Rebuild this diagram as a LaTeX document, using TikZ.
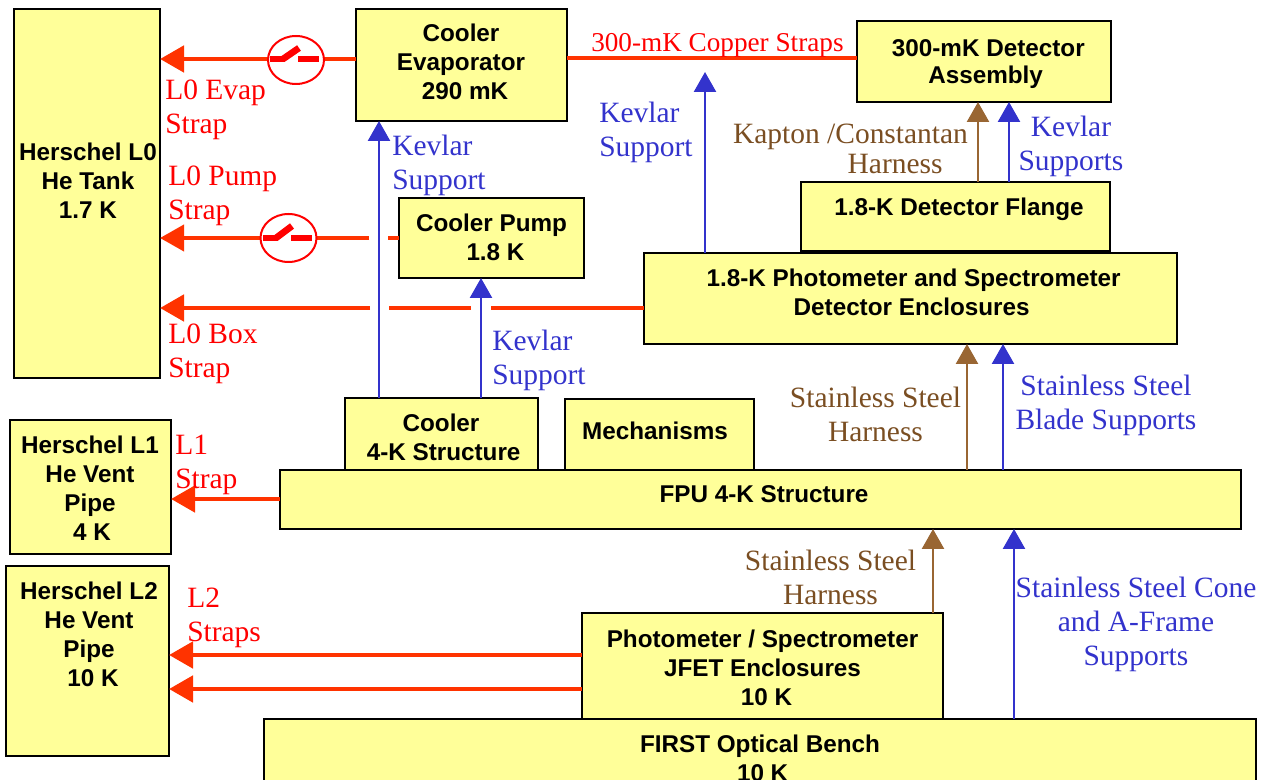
\documentclass[tikz,border=0pt]{standalone}
\usepackage{fontspec}
\setmainfont{Liberation Serif}
\newfontfamily\arialf{Liberation Sans}
\usetikzlibrary{arrows.meta,fit,shapes.geometric}
\definecolor{boxyellow}{HTML}{FFFF99}
\definecolor{strapred}{HTML}{FF3300}
\definecolor{kevblue}{HTML}{3333CC}
\definecolor{harnbrown}{HTML}{996633}
\definecolor{harntext}{HTML}{7A4E22}
\tikzset{
  box/.style={draw=black,line width=1.4pt,fill=boxyellow,inner sep=0pt,outer sep=0pt},
  boxtext/.style={font=\arialf\bfseries\fontsize{18.2}{21.8}\selectfont,align=center,inner sep=0pt,text=black},
  lab/.style={font=\fontsize{22.1}{25.5}\selectfont,inner sep=0pt},
  redlab/.style={lab,text=red,align=left},
  bluelab/.style={lab,text=kevblue},
  brownlab/.style={lab,text=harntext,align=center},
  strap/.style={draw=strapred,line width=3.6pt},
  straphead/.style={strap,-{Triangle[length=18pt,width=19.5pt,fill=strapred]}},
  thinstrap/.style={draw=strapred,line width=3pt},
  thinhead/.style={thinstrap,-{Triangle[length=18pt,width=19.5pt,fill=strapred]}},
  kevarrow/.style={draw=kevblue,line width=1.9pt,-{Triangle[length=15pt,width=16.5pt,fill=kevblue]}},
  harnarrow/.style={draw=harnbrown,line width=1.9pt,-{Triangle[length=15pt,width=16.5pt,fill=harnbrown]}},
  swcircle/.style={ellipse,draw=red,line width=1.5pt,fill=white,minimum width=42pt,minimum height=36pt,inner sep=0pt},
  swbar/.style={draw=red,line width=5pt},
}
\begin{document}
\begin{tikzpicture}[x=0.75pt,y=-0.75pt]
\clip (0,0) rectangle (1265,780);
% boxes
\node[box,fit={(14,9)(160,378)}] (tank) {};
\node[box,fit={(10,420)(171,554)}] (lone) {};
\node[box,fit={(6,566)(169,756)}] (ltwo) {};
\node[box,fit={(356,9)(567,121)}] (evap) {};
\node[box,fit={(857,21)(1111,102)}] (assy) {};
\node[box,fit={(399,198)(584,278)}] (pump) {};
\node[box,fit={(801,182)(1110,251)}] (flange) {};
\node[box,fit={(644,253)(1177,344)}] (encl) {};
\node[box,fit={(345,398)(538,470)}] (cool) {};
\node[box,fit={(565,399)(754,470)}] (mech) {};
\node[box,fit={(280,470)(1241,529)}] (fpu) {};
\node[box,fit={(264,719)(1256,800)}] (bench) {};
\node[box,fit={(582,613)(943,719)}] (jfet) {};
% box texts
\node[boxtext] (t1) at (88,180.5) {Herschel L0\\He Tank\\1.7 K};
\node[boxtext] (t2) at (90,488) {Herschel L1\\He Vent\\Pipe\\\hspace*{3pt}4 K};
\node[boxtext] (t3) at (89,634) {Herschel L2\\He Vent\\Pipe\\\hspace*{6pt}10 K};
\node[boxtext] (t4) at (461,62) {Cooler\\Evaporator\\\hspace*{6pt}290 mK};
\node[boxtext] (t5) at (987,64) {\hspace*{2pt}300-mK Detector\\[-1.5pt]\hspace*{-2pt}Assembly};
\node[boxtext] (t6) at (491.5,237) {Cooler Pump\\\hspace*{6pt}1.8 K};
\node[boxtext] (t7) at (959,209) {1.8-K Detector Flange};
\node[boxtext] (t8) at (913,292.5) {\hspace*{1pt}1.8-K Photometer and Spectrometer\\\hspace*{-2pt}Detector Enclosures};
\node[boxtext] (t9) at (443,437.5) {\hspace*{-3pt}Cooler\\\hspace*{1pt}4-K Structure};
\node[boxtext] (t10) at (655,431) {Mechanisms};
\node[boxtext] (t11) at (764,494) {FPU 4-K Structure};
\node[boxtext] (t12) at (762.5,667.5) {Photometer / Spectrometer\\JFET Enclosures\\\hspace*{6pt}10 K};
\node[boxtext] (t13) at (760,758) {FIRST Optical Bench\\\hspace*{4pt}10 K};
% straps
\draw[strap] (evap.east |- 0,58) -- (assy.west |- 0,58);
\draw[straphead] (evap.west |- 0,59) -- (tank.east |- 0,59);
\coordinate (pgapa) at (388,238);
\coordinate (pgapb) at (369,238);
\draw[thinstrap] (pump.west |- pgapa) -- (pgapa);
\draw[thinhead] (pgapb) -- (tank.east |- pgapb);
\coordinate (bgapa) at (491,308);
\coordinate (bgapb) at (471,308);
\coordinate (bgapc) at (389,308);
\coordinate (bgapd) at (370,308);
\draw[strap] (encl.west |- bgapa) -- (bgapa);
\draw[strap] (bgapb) -- (bgapc);
\draw[straphead] (bgapd) -- (tank.east |- bgapd);
\draw[straphead] (fpu.west |- 0,499) -- (lone.east |- 0,499);
\draw[straphead] (jfet.west |- 0,655) -- (ltwo.east |- 0,655);
\draw[straphead] (jfet.west |- 0,689) -- (ltwo.east |- 0,689);
% switches
\node[swcircle] (swa) at (296,60) {};
\draw[swbar] (270,59) -- (285,59);
\draw[swbar] (283,59) -- (299,48);
\draw[swbar] (298,59) -- (319,59);
\node[swcircle] (swb) at (288.5,238) {};
\draw[swbar] (263,238) -- (278,238);
\draw[swbar] (276,238) -- (292,226);
\draw[swbar] (291,238) -- (312,238);
% support arrows
\coordinate (kevtop) at (705,72);
\draw[kevarrow] (379,0 |- cool.north) -- (379,0 |- evap.south);
\draw[kevarrow] (481,0 |- cool.north) -- (481,0 |- pump.south);
\draw[kevarrow] (kevtop |- encl.north) -- (kevtop);
\draw[kevarrow] (1009,0 |- flange.north) -- (1009,0 |- assy.south);
\draw[harnarrow] (978,0 |- flange.north) -- (978,0 |- assy.south);
\draw[harnarrow] (967,0 |- fpu.north) -- (967,0 |- encl.south);
\draw[kevarrow] (1003,0 |- fpu.north) -- (1003,0 |- encl.south);
\draw[harnarrow] (933,0 |- jfet.north) -- (933,0 |- fpu.south);
\draw[kevarrow] (1014,0 |- bench.north) -- (1014,0 |- fpu.south);
% labels
\node[redlab,anchor=west] (l1) at (165,109.5) {L0 Evap\\Strap};
\node[redlab,anchor=west] (l2) at (168,195.5) {L0 Pump\\Strap};
\node[redlab,anchor=west] (l3) at (168,353.5) {L0 Box\\Strap};
\node[redlab,anchor=west] (l4) at (175,464.5) {L1\\Strap};
\node[redlab,anchor=west] (l5) at (187,618) {L2\\Straps};
\node[lab,text=red,anchor=west,font=\fontsize{20.4}{25.5}\selectfont] (l6) at (591,45) {300-mK Copper Straps};
\node[bluelab,align=left,anchor=west] (l7) at (392,165.5) {Kevlar\\Support};
\node[bluelab,align=left,anchor=west] (l8) at (599,132.5) {Kevlar\\Support};
\node[bluelab,align=left,anchor=west] (l9) at (492,360.5) {Kevlar\\Support};
\node[bluelab,align=center] (l10) at (1071,146.5) {Kevlar\\Supports};
\node[brownlab] (l11) at (850.5,148.5) {Kapton /Constantan\\[-3pt]\hspace*{67pt}Harness};
\node[brownlab] (l12) at (875.5,414.5) {Stainless Steel\\Harness};
\node[bluelab,align=center] (l13) at (1106,405.5) {Stainless Steel\\Blade Supports};
\node[brownlab] (l14) at (830.5,577.5) {Stainless Steel\\Harness};
\node[bluelab,align=center] (l15) at (1136,624.5) {Stainless Steel Cone\\and A-Frame\\Supports};
\end{tikzpicture}
\end{document}
